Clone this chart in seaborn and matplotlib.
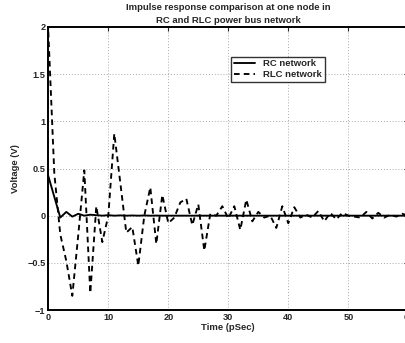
import numpy as np
import pandas as pd
import seaborn as sns
import matplotlib.pyplot as plt

# time axis in pSec, one sample per pSec
time = list(range(0, 61))

rc_volt = [0.42, 0.2, -0.02, 0.04, -0.01, 0.02, 0.0, 0.01, 0.005, 0.0,
           0.005, 0.0, 0.003, 0.0, 0.002, 0.0, 0.002, 0.0, 0.001, 0.0,
           0.0, 0.0, 0.0, 0.0, 0.0, 0.0, 0.0, 0.0, 0.0, 0.0,
           0.0, 0.0, 0.0, 0.0, 0.0, 0.0, 0.0, 0.0, 0.0, 0.0,
           0.0, 0.0, 0.0, 0.0, 0.0, 0.0, 0.0, 0.0, 0.0, 0.0,
           0.0, 0.0, 0.0, 0.0, 0.0, 0.0, 0.0, 0.0, 0.0, 0.0, 0.0]

rlc_volt = [1.95, 0.45, -0.2, -0.48, -0.85, -0.2, 0.48, -0.82, 0.1, -0.28,
            0.0, 0.87, 0.35, -0.18, -0.12, -0.53, 0.0, 0.3, -0.3, 0.22,
            -0.08, -0.02, 0.14, 0.18, -0.1, 0.12, -0.37, 0.02, 0.0, 0.1,
            -0.03, 0.1, -0.15, 0.17, -0.06, 0.04, -0.02, 0.0, -0.13, 0.1,
            -0.08, 0.09, -0.02, 0.01, -0.02, 0.05, -0.06, 0.03, -0.04, 0.03,
            0.0, -0.01, -0.02, 0.04, -0.03, 0.03, -0.02, 0.01, -0.01, 0.02, 0.0]

series_names = ["RC network", "RLC network"]

df = pd.DataFrame({
    "time": time * 2,
    "volt": rc_volt + rlc_volt,
    "net": [series_names[0]] * len(time) + [series_names[1]] * len(time),
})

sns.set_style("white")
plt.rcParams["font.family"] = ["Liberation Sans", "DejaVu Sans"]
plt.rcParams["font.weight"] = "bold"

fig = plt.figure(figsize=(4.06, 3.43), dpi=100)
W, H = 406, 343
ax = fig.add_axes([48.3 / W, (H - 310) / H, 360 / W, 283 / H])

sns.lineplot(data=df, x="time", y="volt", hue="net", style="net",
             palette=["black", "black"],
             dashes={series_names[0]: "", series_names[1]: (3, 2.2)},
             linewidth=1.35, ax=ax, legend=True)

ax.set_xlim(0, 60)
ax.set_ylim(-1, 2)
ax.set_xticks([0, 10, 20, 30, 40, 50, 60])
ax.set_yticks([-1, -0.5, 0, 0.5, 1, 1.5, 2])
ax.set_yticklabels(["\u22121", "\u22120.5", "0", "0.5", "1", "1.5", "2"])
ax.grid(True, linestyle=(0, (1, 2)), color="#aaaaaa", linewidth=0.7)
ax.tick_params(direction="in", length=3, width=0.8, labelsize=6.6,
               top=True, right=True, pad=2)
for lab in ax.get_xticklabels() + ax.get_yticklabels():
    lab.set_fontweight("bold")
for s in ax.spines.values():
    s.set_linewidth(1.4)
    s.set_color("black")

ax.set_xlabel("Time (pSec)", fontsize=6.8, fontweight="bold", labelpad=1)
ax.set_ylabel("Voltage (V)", fontsize=6.8, fontweight="bold", labelpad=5)
ax.set_title("Impulse response comparison at one node in\nRC and RLC power bus network",
             fontsize=6.8, fontweight="bold", pad=3, linespacing=1.55)

leg = ax.legend(loc="upper left", bbox_to_anchor=(0.495, 0.912), frameon=True,
                fancybox=False, edgecolor="black",
                prop={"weight": "bold", "size": 6.8}, handlelength=2.2,
                borderpad=0.3, labelspacing=0.15, handletextpad=0.9)
leg.get_frame().set_linewidth(1.0)

fig.savefig("out.png", dpi=100)
